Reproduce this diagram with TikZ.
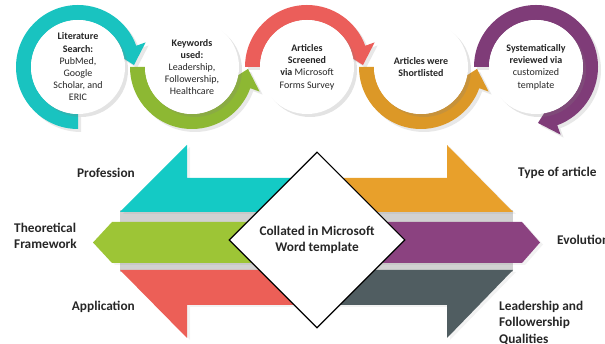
\documentclass[tikz,border=0pt]{standalone}
\usepackage{fontspec}
\setmainfont{Carlito}
\usetikzlibrary{shapes.geometric,shadows}

\definecolor{tealA}{HTML}{19C3C0}
\definecolor{greenA}{HTML}{8DB833}
\definecolor{redA}{HTML}{EB5E5A}
\definecolor{goldA}{HTML}{DC9827}
\definecolor{purpA}{HTML}{7F3C78}
\definecolor{tealB}{HTML}{14CAC5}
\definecolor{greenB}{HTML}{9DC536}
\definecolor{redB}{HTML}{EC5F57}
\definecolor{orangeB}{HTML}{E8A02B}
\definecolor{purpB}{HTML}{8B4280}
\definecolor{slateB}{HTML}{505D61}

\newcommand{\Rout}{62}
\newcommand{\Rin}{47}
% ring with arrow head: centre, start angle, head base angle, tip angle, colour
\newcommand{\ringarrow}[5]{%
  \fill[#5, shift={#1}, drop shadow={opacity=0.18, shadow xshift=3pt, shadow yshift=-3pt}]
    (#2:\Rout) arc[start angle=#2, end angle=#3, radius=\Rout]
    -- (#3:72) -- (#4:56) -- (#3:40) -- (#3:\Rin)
    arc[start angle=#3, end angle=#2, radius=\Rin] -- cycle;}

\begin{document}
\begin{tikzpicture}[x=1pt, y=1pt,
    disc/.style={circle, fill=white, minimum size=94pt, inner sep=0pt, align=center,
      font=\fontsize{10}{12.2}\selectfont, text=black!85,
      drop shadow={opacity=0.22, shadow xshift=3pt, shadow yshift=-3pt}},
    lbl/.style={font=\fontsize{13.3}{16.2}\selectfont\bfseries, text=black!85, inner sep=0pt},
    band/.style={drop shadow={opacity=0.1, shadow xshift=3pt, shadow yshift=-2pt}}]

    \useasboundingbox (0,0) rectangle (605,344);

    % Rings
    \ringarrow{(78,277)}{270}{20}{2}{tealA}
    \ringarrow{(192,277)}{180}{340}{358}{greenA}
    \ringarrow{(307,277)}{180}{20}{2}{redA}
    \ringarrow{(421,277)}{180}{340}{358}{goldA}
    \ringarrow{(536,277)}{180}{-70}{-88}{purpA}

    % Steps
    \node[disc] (lit) at (78,277) {\textbf{Literature}\\\textbf{Search:}\\PubMed,\\Google\\Scholar, and\\ERIC};
    \node[disc] (kw) at (192,277) {\textbf{Keywords}\\\textbf{used:}\\Leadership,\\Followership,\\Healthcare};
    \node[disc] (scr) at (307,277) {\textbf{Articles}\\\textbf{Screened}\\\textbf{via} Microsoft\\Forms Survey};
    \node[disc] (short) at (421,277) {\textbf{Articles were}\\\textbf{Shortlisted}};
    \node[disc] (rev) at (536,277) {\textbf{Systematically}\\\textbf{reviewed via}\\customized\\template};

    % Grey strip behind the arrows
    \fill[black!18] (120,72) rectangle (513,134);

    % Left arrows
    \fill[tealB, band] (317,132) -- (120,132) -- (187,199) -- (187,166) -- (317,166) -- cycle;
    \fill[greenB, band] (317,81) -- (112,81) -- (93,101.5) -- (112,122) -- (317,122) -- cycle;
    \fill[redB, band] (317,74) -- (120,74) -- (187,6) -- (187,39) -- (317,39) -- cycle;

    % Right arrows
    \fill[orangeB, band] (317,132) -- (513,132) -- (447,199) -- (447,166) -- (317,166) -- cycle;
    \fill[purpB, band] (317,81) -- (522,81) -- (540,101.5) -- (522,122) -- (317,122) -- cycle;
    \fill[slateB, band] (317,74) -- (513,74) -- (447,6) -- (447,39) -- (317,39) -- cycle;

    % Centre
    \node[diamond, draw, fill=white, line width=1.1pt, aspect=1, minimum width=176pt,
      minimum height=176pt, inner sep=0pt, align=center, text=black!85,
      font=\fontsize{13.3}{15.5}\selectfont\bfseries] (coll) at (317,104)
      {Collated in Microsoft\\Word template};

    % Labels
    \node[lbl, anchor=east] (prof) at (135,171) {Profession};
    \node[lbl, anchor=west, align=left] (theo) at (14,108) {Theoretical\\Framework};
    \node[lbl, anchor=east] (appl) at (135,37) {Application};
    \node[lbl, anchor=west] (type) at (518,171) {Type of article};
    \node[lbl, anchor=west] (evol) at (557,104) {Evolution};
    \node[lbl, anchor=west, align=left] (lead) at (499,21) {Leadership and\\Followership\\Qualities};
\end{tikzpicture}
\end{document}
